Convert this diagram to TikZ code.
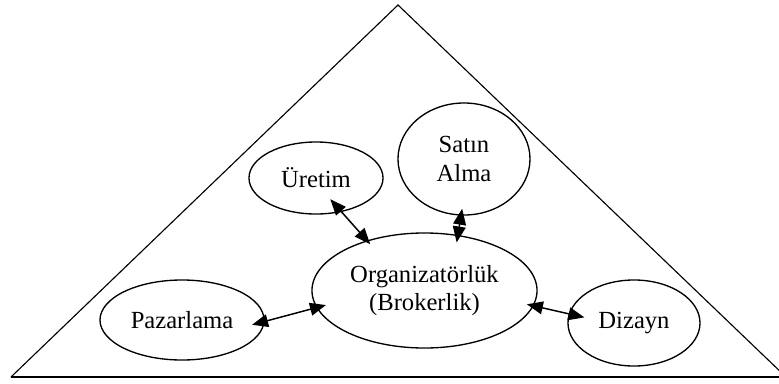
\documentclass[tikz,border=0pt]{standalone}
\usepackage{fontspec}
\setmainfont{Liberation Serif}
\usetikzlibrary{shapes}
\usetikzlibrary{arrows.meta}
\tikzset{>={Triangle[length=4mm,width=3.2mm]}}

\begin{document}
\begin{tikzpicture}[x=0.025cm,y=-0.025cm]
        \tikzstyle{unit} = [line width=0.95pt, draw=black, ellipse, inner sep=0pt, align=center, font=\fontsize{17.5}{20}\selectfont]
        \tikzstyle{link} = [<->, line width=1.05pt]

        \useasboundingbox (0,0) rectangle (779,383);
        \clip (0,0) rectangle (779,383);

        % the pyramid
        \coordinate (apex) at (398,5);
        \coordinate (left) at (11,377);
        \coordinate (right) at (786,377);
        \draw[line width=0.8pt] (left) -- (apex) -- (right);
        \draw[line width=1.4pt] (left) -- (right);

        \node[unit, minimum width=3.35cm, minimum height=1.8cm] (uret) at (316,178) {Üretim};
        \node[unit, minimum width=3.3cm, minimum height=2.8cm] (satin) at (464,159) {Satın\\Alma};
        \node[unit, minimum width=4.1cm, minimum height=2cm] (paz) at (182,320) {Pazarlama};
        \node[unit, minimum width=5.625cm, minimum height=2.875cm] (org) at (424.5,290.5) {Organizatörlük\\(Brokerlik)};
        \node[unit, minimum width=3.3cm, minimum height=2.15cm] (diz) at (634,323) {Dizayn};

        \draw[link, shorten <=-0.425cm, shorten >=-0.125cm] (uret.-53) -- (org.139.5);
        \draw[link, shorten <=-0.175cm, shorten >=-0.19cm] (satin.267) -- (org.59.3);
        \draw[link, shorten <=-0.325cm, shorten >=-0.25cm] (paz.-1) -- (org.189);
        \draw[link, shorten <=-0.175cm, shorten >=-0.4cm] (org.-8.9) -- (diz.172.8);
\end{tikzpicture}
\end{document}
